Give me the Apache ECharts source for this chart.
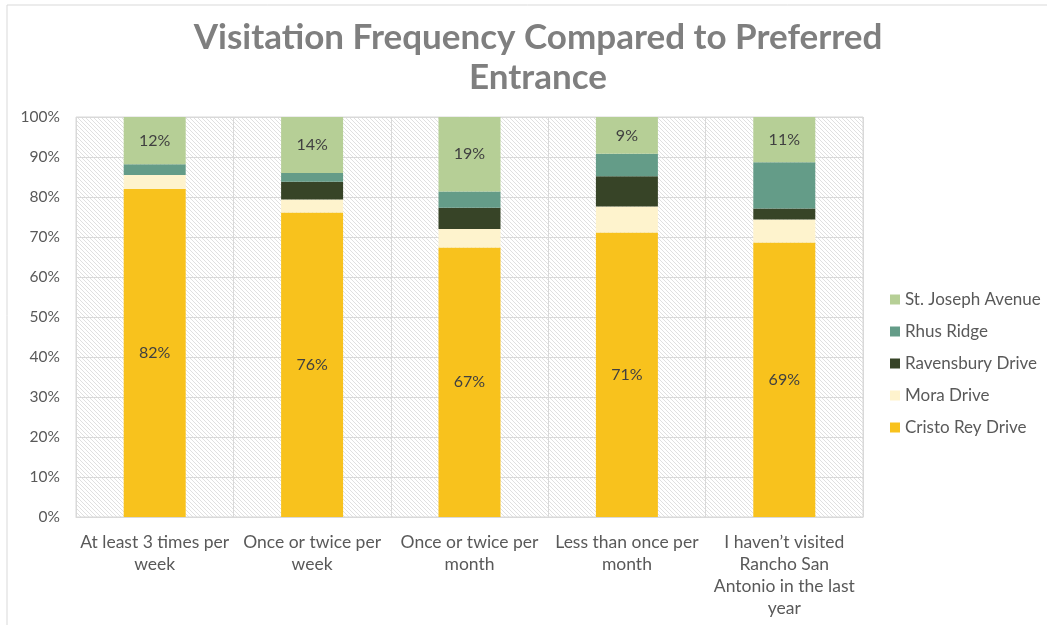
<!DOCTYPE html>
<html><head><meta charset="utf-8">
<script src="https://cdn.jsdelivr.net/npm/echarts@6/dist/echarts.min.js"></script>
<style>html,body{margin:0;padding:0;background:#fff}#c{width:1047px;height:625px}</style>
</head><body><div id="c"></div>
<script>
const categories = ['At least 3 times per\nweek','Once or twice per\nweek','Once or twice per\nmonth','Less than once per\nmonth','I haven\u2019t visited\nRancho San\nAntonio in the last\nyear'];
const cristoRey = [82, 76.1, 67.4, 71.1, 68.6];
const mora = [3.5, 3.3, 4.6, 6.5, 5.8];
const ravensbury = [0, 4.4, 5.3, 7.6, 2.7];
const rhusRidge = [2.7, 2.2, 4.1, 5.6, 11.6];
const stJoseph = [11.8, 14, 18.6, 9.2, 11.3];
const yTicks = [0,10,20,30,40,50,60,70,80,90,100];

const pc = document.createElement('canvas');
pc.width = 4; pc.height = 4;
const g = pc.getContext('2d');
g.fillStyle = '#ffffff'; g.fillRect(0,0,4,4);
g.strokeStyle = '#e0e0e0'; g.lineWidth = 1;
g.beginPath();
g.moveTo(-1,-1); g.lineTo(5,5);
g.moveTo(-1,3); g.lineTo(1,5);
g.moveTo(3,-1); g.lineTo(5,1);
g.stroke();

const FONT = 'Lato';
const lbl = {show:true, position:'inside', color:'#404040', fontSize:16, fontFamily:FONT, formatter: p => Math.round(p.value) + '%'};
function ser(name, data, color, label){
  return {name, type:'bar', stack:'s', data, barWidth:62, itemStyle:{color}, label: label ? lbl : {show:false}};
}
const chart = echarts.init(document.getElementById('c'));
chart.setOption({
  animation:false,
  title:{text:'Visitation Frequency Compared to Preferred\nEntrance', left:533, textAlign:'center', top:13,
    textStyle:{fontFamily:FONT, fontSize:35, fontWeight:'bold', color:'#7f7f7f', lineHeight:40}},
  graphic:[{type:'rect', shape:{x:7,y:5,width:1060,height:640}, style:{fill:'none', stroke:'#d9d9d9', lineWidth:1}, silent:true}],
  grid:{left:76, right:184, top:117, bottom:108, show:true, backgroundColor:{image:pc, repeat:'repeat'}, borderColor:'#d9d9d9', borderWidth:1},
  legend:{orient:'vertical', left:885, top:286, itemWidth:10, itemHeight:10, itemGap:15, icon:'rect',
    textStyle:{fontFamily:FONT, fontSize:17, color:'#595959'},
    data:['St. Joseph Avenue','Rhus Ridge','Ravensbury Drive','Mora Drive','Cristo Rey Drive']},
  xAxis:{type:'category', data:categories,
    axisLine:{lineStyle:{color:'#d9d9d9'}}, axisTick:{show:false},
    splitLine:{show:true, lineStyle:{color:'#d9d9d9'}},
    axisLabel:{interval:0, color:'#595959', fontFamily:FONT, fontSize:17.5, lineHeight:22, margin:14}},
  yAxis:{type:'value', min:0, max:100, interval:10,
    axisLine:{show:false}, axisTick:{show:false},
    splitLine:{lineStyle:{color:'#d9d9d9'}},
    axisLabel:{color:'#595959', fontFamily:FONT, fontSize:15.5, margin:16, formatter:v => v + '%'}},
  series:[
    ser('Cristo Rey Drive', cristoRey, '#f8c21d', true),
    ser('Mora Drive', mora, '#fef3cd', false),
    ser('Ravensbury Drive', ravensbury, '#374427', false),
    ser('Rhus Ridge', rhusRidge, '#649c88', false),
    ser('St. Joseph Avenue', stJoseph, '#b6cf96', true)
  ]
});
</script></body></html>
